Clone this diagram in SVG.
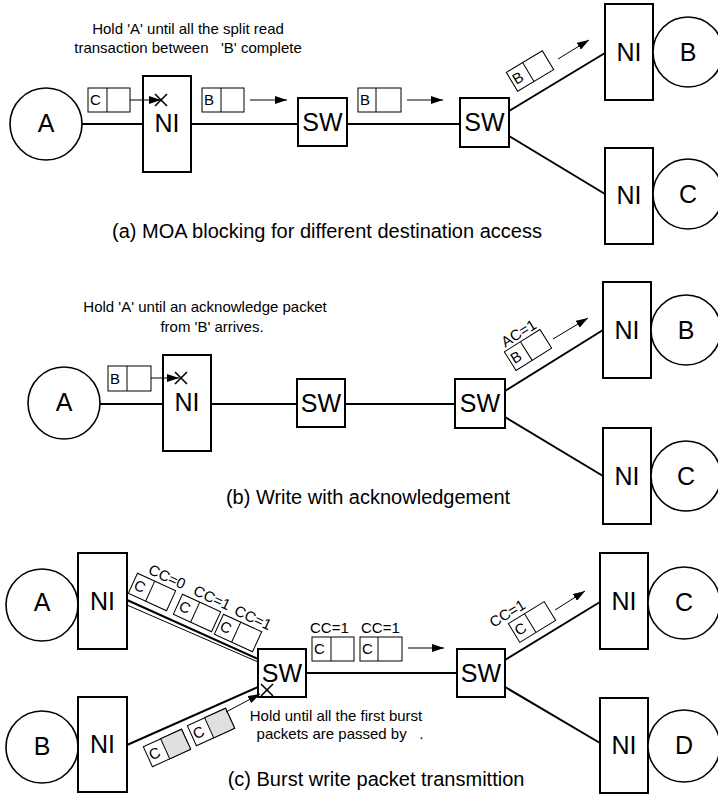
<svg xmlns="http://www.w3.org/2000/svg" width="718" height="796" viewBox="0 0 718 796">
<style>
.box{fill:#fff;stroke:#000;stroke-width:2}
.node{fill:#fff;stroke:#000;stroke-width:1.6}
.wire{stroke:#000;stroke-width:2;fill:none}
.thin{stroke:#000;stroke-width:1;fill:none}
.arr{stroke:#000;stroke-width:1;fill:none;marker-end:url(#ah)}
.pk{fill:#fff;stroke:#000;stroke-width:1}
.pkg{fill:#e0e0e0;stroke:#000;stroke-width:1}
text{font-family:"Liberation Sans",Arial,sans-serif;fill:#000}
.lbl{font-size:25px;text-anchor:middle}
.sm{font-size:15px}
.ann{font-size:15px;text-anchor:middle;white-space:pre}
.cap{font-size:20px;text-anchor:middle}
.x{stroke:#000;stroke-width:1.6}
</style>
<defs>
<marker id="ah" viewBox="0 0 12 8" refX="12" refY="4" markerWidth="12" markerHeight="8" markerUnits="userSpaceOnUse" orient="auto"><path d="M0,0 L12,4 L0,8 z" fill="#000"/></marker>
</defs>

<!-- connectors -->
<g id="connectors">
<!-- (a) -->
<line class="wire" x1="82" y1="124" x2="143" y2="124"/>
<line class="wire" x1="191" y1="124" x2="298" y2="124"/>
<line class="wire" x1="347" y1="124" x2="460" y2="124"/>
<line class="wire" x1="509" y1="111" x2="605" y2="53"/>
<line class="wire" x1="509" y1="136" x2="605" y2="194"/>
<!-- (b) -->
<line class="wire" x1="100" y1="404" x2="163" y2="404"/>
<line class="wire" x1="211" y1="404" x2="297" y2="404"/>
<line class="wire" x1="345" y1="404" x2="455" y2="404"/>
<line class="wire" x1="505" y1="391" x2="603" y2="330"/>
<line class="wire" x1="505" y1="417" x2="603" y2="476"/>
<!-- (c) -->
<line class="wire" x1="127" y1="600" x2="258" y2="659"/>
<line class="thin" x1="127" y1="605" x2="258" y2="662"/>
<line class="wire" x1="127" y1="745" x2="258" y2="687"/>
<line class="wire" x1="306" y1="673" x2="457" y2="673"/>
<line class="wire" x1="505" y1="660" x2="600" y2="602"/>
<line class="wire" x1="505" y1="687" x2="600" y2="743"/>
</g>

<!-- ===== (a) ===== -->
<g id="a-A"><circle class="node" cx="46" cy="124" r="36"/><text class="lbl" x="46" y="132">A</text></g>
<g id="a-NI1"><rect class="box" x="143" y="76" width="48" height="96"/><text class="lbl" x="167" y="132">NI</text></g>
<g id="a-SW1"><rect class="box" x="298" y="98" width="49" height="48"/><text class="lbl" x="322.5" y="131">SW</text></g>
<g id="a-SW2"><rect class="box" x="460" y="98" width="49" height="49"/><text class="lbl" x="484.5" y="131">SW</text></g>
<g id="a-NIB"><rect class="box" x="605" y="4" width="48" height="96"/><text class="lbl" x="629" y="61">NI</text></g>
<g id="a-B"><circle class="node" cx="688" cy="52" r="35"/><text class="lbl" x="688" y="61">B</text></g>
<g id="a-NIC"><rect class="box" x="605" y="148" width="48" height="96"/><text class="lbl" x="629" y="204">NI</text></g>
<g id="a-C"><circle class="node" cx="688" cy="194" r="35"/><text class="lbl" x="688" y="203">C</text></g>

<g id="a-packets">
<rect class="pk" x="88" y="88" width="42" height="24"/><line class="thin" x1="107" y1="88" x2="107" y2="112"/><text class="sm" x="90" y="105">C</text>
<line class="arr" x1="130" y1="100" x2="161" y2="100"/>
<line class="x" x1="155" y1="94" x2="167" y2="106"/><line class="x" x1="155" y1="106" x2="167" y2="94"/>
<rect class="pk" x="202" y="88" width="42" height="24"/><line class="thin" x1="221" y1="88" x2="221" y2="112"/><text class="sm" x="204" y="105">B</text>
<line class="arr" x1="250" y1="100" x2="287" y2="100"/>
<rect class="pk" x="358" y="88" width="43" height="24"/><line class="thin" x1="376" y1="88" x2="376" y2="112"/><text class="sm" x="360" y="105">B</text>
<line class="arr" x1="407" y1="100" x2="443" y2="100"/>
<g transform="translate(530,71) rotate(-31)"><rect class="pk" x="-21" y="-11" width="42" height="22"/><line class="thin" x1="-2" y1="-11" x2="-2" y2="11"/><text class="sm" x="-19" y="5">B</text></g>
<line class="arr" x1="558" y1="59" x2="589" y2="40"/>
</g>
<text class="ann" x="188" y="34">Hold 'A' until all the split read</text>
<text class="ann" x="188" y="53">transaction between   'B' complete</text>
<text class="cap" x="327" y="238">(a) MOA blocking for different destination access</text>

<!-- ===== (b) ===== -->
<g id="b-A"><circle class="node" cx="64" cy="403" r="36"/><text class="lbl" x="64" y="411">A</text></g>
<g id="b-NI1"><rect class="box" x="163" y="355" width="48" height="96"/><text class="lbl" x="187" y="411">NI</text></g>
<g id="b-SW1"><rect class="box" x="297" y="379" width="48" height="48"/><text class="lbl" x="321" y="412">SW</text></g>
<g id="b-SW2"><rect class="box" x="455" y="379" width="50" height="49"/><text class="lbl" x="480" y="412">SW</text></g>
<g id="b-NIB"><rect class="box" x="603" y="282" width="48" height="96"/><text class="lbl" x="627" y="339">NI</text></g>
<g id="b-B"><circle class="node" cx="686" cy="330" r="35"/><text class="lbl" x="686" y="339">B</text></g>
<g id="b-NIC"><rect class="box" x="603" y="428" width="48" height="96"/><text class="lbl" x="627" y="485">NI</text></g>
<g id="b-C"><circle class="node" cx="686" cy="476" r="35"/><text class="lbl" x="686" y="485">C</text></g>

<g id="b-packets">
<rect class="pk" x="108" y="366" width="43" height="25"/><line class="thin" x1="127" y1="366" x2="127" y2="391"/><text class="sm" x="110" y="384">B</text>
<line class="arr" x1="151" y1="378" x2="179" y2="378"/>
<line class="x" x1="175" y1="372" x2="187" y2="384"/><line class="x" x1="175" y1="384" x2="187" y2="372"/>
<g transform="translate(528,350) rotate(-32)"><rect class="pk" x="-21" y="-11" width="42" height="22"/><line class="thin" x1="-2" y1="-11" x2="-2" y2="11"/><text class="sm" x="-19" y="5">B</text><text class="sm" x="-18" y="-14">AC=1</text></g>
<line class="arr" x1="553" y1="339" x2="588" y2="318"/>
</g>
<text class="ann" x="205" y="312">Hold 'A' until an acknowledge packet</text>
<text class="ann" x="212" y="332">from 'B' arrives.</text>
<text class="cap" x="368" y="504">(b) Write with acknowledgement</text>

<!-- ===== (c) ===== -->
<g id="c-A"><circle class="node" cx="42" cy="605" r="36"/><text class="lbl" x="42" y="611">A</text></g>
<g id="c-NIA"><rect class="box" x="78" y="553" width="49" height="96"/><text class="lbl" x="102.5" y="610">NI</text></g>
<g id="c-B"><circle class="node" cx="42" cy="747" r="36"/><text class="lbl" x="42" y="755">B</text></g>
<g id="c-NIB"><rect class="box" x="78" y="697" width="49" height="95"/><text class="lbl" x="102.5" y="753">NI</text></g>
<g id="c-SW1"><rect class="box" x="258" y="649" width="48" height="48"/><text class="lbl" x="282" y="682">SW</text></g>
<g id="c-SW2"><rect class="box" x="457" y="649" width="48" height="48"/><text class="lbl" x="481" y="682">SW</text></g>
<g id="c-NIC"><rect class="box" x="600" y="553" width="48" height="96"/><text class="lbl" x="624" y="610">NI</text></g>
<g id="c-C"><circle class="node" cx="684" cy="603" r="36"/><text class="lbl" x="684" y="611">C</text></g>
<g id="c-NID"><rect class="box" x="600" y="698" width="48" height="95"/><text class="lbl" x="624" y="754">NI</text></g>
<g id="c-D"><circle class="node" cx="684" cy="746" r="36"/><text class="lbl" x="684" y="754">D</text></g>

<g id="c-packets">
<g transform="translate(152,592) rotate(24.6)"><rect class="pk" x="-21" y="-11" width="42" height="22"/><line class="thin" x1="-2" y1="-11" x2="-2" y2="11"/><text class="sm" x="-19" y="5">C</text><text class="sm" x="-12" y="-15">CC=0</text></g>
<g transform="translate(197,613) rotate(24.6)"><rect class="pk" x="-21" y="-11" width="42" height="22"/><line class="thin" x1="-2" y1="-11" x2="-2" y2="11"/><text class="sm" x="-19" y="5">C</text><text class="sm" x="-12" y="-15">CC=1</text></g>
<g transform="translate(238,633) rotate(24.6)"><rect class="pk" x="-21" y="-11" width="42" height="22"/><line class="thin" x1="-2" y1="-11" x2="-2" y2="11"/><text class="sm" x="-19" y="5">C</text><text class="sm" x="-12" y="-15">CC=1</text></g>

<g transform="translate(167,748) rotate(-24.5)"><rect class="pk" x="-21" y="-11" width="42" height="22"/><rect class="pkg" x="-2" y="-11" width="23" height="22"/><text class="sm" x="-19" y="5">C</text></g>
<g transform="translate(211,727) rotate(-24.5)"><rect class="pk" x="-21" y="-11" width="42" height="22"/><rect class="pkg" x="-2" y="-11" width="23" height="22"/><text class="sm" x="-19" y="5">C</text></g>
<line class="arr" x1="226" y1="712" x2="260" y2="694"/>
<line class="x" x1="261" y1="684" x2="273" y2="696"/><line class="x" x1="261" y1="696" x2="273" y2="684"/>

<text class="sm" x="310" y="633">CC=1</text>
<rect class="pk" x="312" y="637" width="42" height="24"/><line class="thin" x1="331" y1="637" x2="331" y2="661"/><text class="sm" x="314" y="654">C</text>
<text class="sm" x="361" y="633">CC=1</text>
<rect class="pk" x="360" y="637" width="42" height="24"/><line class="thin" x1="378" y1="637" x2="378" y2="661"/><text class="sm" x="362" y="654">C</text>
<line class="arr" x1="408" y1="648" x2="444" y2="648"/>

<g transform="translate(532,622) rotate(-31.4)"><rect class="pk" x="-21" y="-11" width="42" height="22"/><line class="thin" x1="-2" y1="-11" x2="-2" y2="11"/><text class="sm" x="-19" y="5">C</text><text class="sm" x="-36" y="-15">CC=1</text></g>
<line class="arr" x1="555" y1="610" x2="585" y2="591"/>
</g>
<text class="ann" x="336" y="721">Hold until all the first burst</text>
<text class="ann" x="340" y="739">packets are passed by   .</text>
<text class="cap" x="376" y="786">(c) Burst write packet transmittion</text>
</svg>
